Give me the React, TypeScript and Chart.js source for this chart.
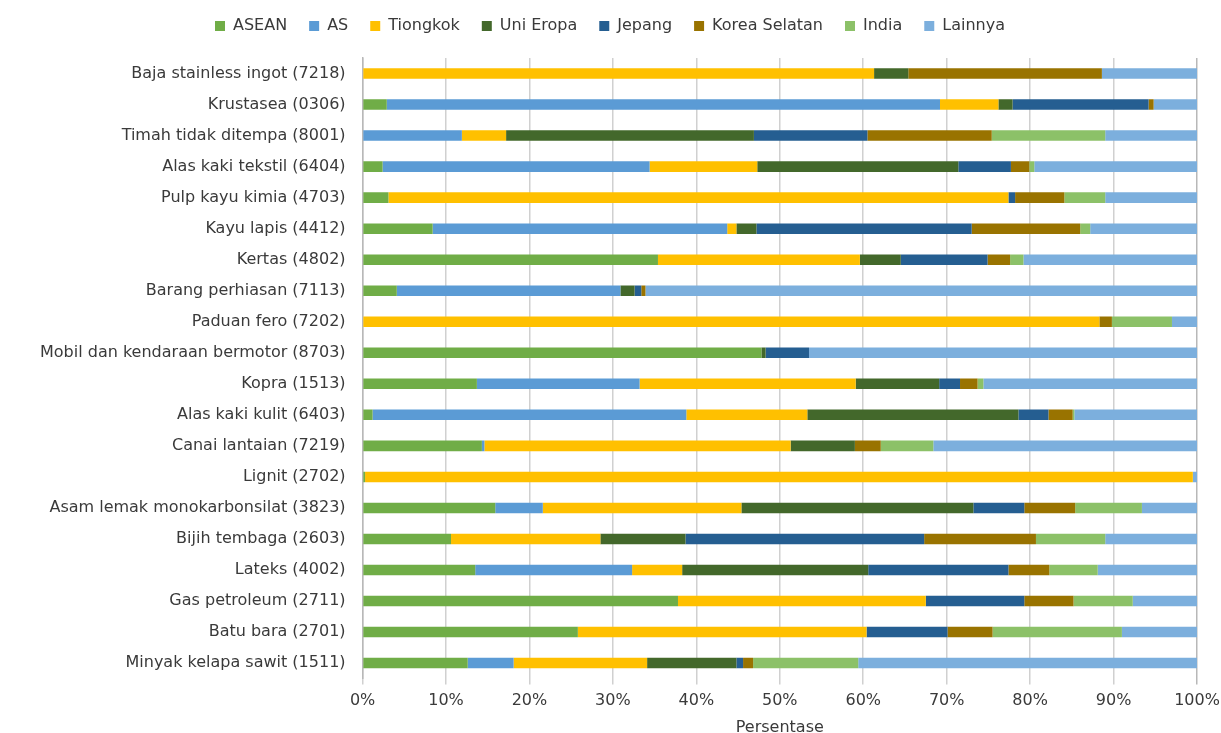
import React, { useEffect, useRef } from "react";
import { Chart, registerables } from "chart.js";

Chart.register(...registerables);

const categories = [
  "Baja stainless ingot (7218)",
  "Krustasea (0306)",
  "Timah tidak ditempa (8001)",
  "Alas kaki tekstil (6404)",
  "Pulp kayu kimia (4703)",
  "Kayu lapis (4412)",
  "Kertas (4802)",
  "Barang perhiasan (7113)",
  "Paduan fero (7202)",
  "Mobil dan kendaraan bermotor (8703)",
  "Kopra (1513)",
  "Alas kaki kulit (6403)",
  "Canai lantaian (7219)",
  "Lignit (2702)",
  "Asam lemak monokarbonsilat (3823)",
  "Bijih tembaga (2603)",
  "Lateks (4002)",
  "Gas petroleum (2711)",
  "Batu bara (2701)",
  "Minyak kelapa sawit (1511)",
];

const asean = [0, 2.9, 0, 2.4, 3.1, 8.4, 35.4, 4.1, 0, 47.8, 13.7, 1.2, 14.3, 0.3, 15.9, 10.6, 13.5, 37.8, 25.8, 12.6];
const as = [0, 66.3, 11.9, 32.0, 0, 35.3, 0, 26.8, 0, 0, 19.5, 37.6, 0.3, 0, 5.7, 0, 18.8, 0, 0, 5.5];
const tiongkok = [61.3, 7.0, 5.3, 12.9, 74.3, 1.1, 24.2, 0, 88.3, 0, 25.9, 14.5, 36.7, 99.2, 23.8, 17.9, 6.0, 29.7, 34.6, 16.0];
const uniEropa = [4.1, 1.7, 29.7, 24.1, 0, 2.4, 4.9, 1.7, 0, 0.5, 10.0, 25.3, 7.7, 0, 27.8, 10.2, 22.3, 0, 0, 10.7];
const jepang = [0, 16.3, 13.6, 6.3, 0.8, 25.8, 10.4, 0.8, 0, 5.2, 2.5, 3.6, 0, 0, 6.1, 28.6, 16.8, 11.8, 9.7, 0.8];
const koreaSelatan = [23.2, 0.6, 14.9, 2.2, 5.9, 13.0, 2.7, 0.5, 1.5, 0, 2.1, 2.9, 3.1, 0, 6.1, 13.4, 4.9, 5.9, 5.4, 1.2];
const india = [0, 0, 13.6, 0.6, 4.9, 1.2, 1.6, 0, 7.2, 0, 0.7, 0.2, 6.3, 0, 8.0, 8.3, 5.8, 7.1, 15.5, 12.6];
const lainnya = [11.4, 5.2, 11.0, 19.5, 11.0, 12.8, 20.8, 66.1, 3.0, 46.5, 25.6, 14.7, 31.6, 0.5, 6.6, 11.0, 11.9, 7.7, 9.0, 40.6];

const xTicks = ["0%", "10%", "20%", "30%", "40%", "50%", "60%", "70%", "80%", "90%", "100%"];

const FONT = "DejaVu Sans";
const TEXT = "#3A3A3A";

const legendMargin = {
  id: "legendMargin",
  beforeInit(chart: any) {
    const orig = chart.legend.fit;
    chart.legend.fit = function () {
      orig.bind(this)();
      this.height += 14;
    };
  },
};

export default function App() {
  const ref = useRef<HTMLCanvasElement | null>(null);

  useEffect(() => {
    document.body.style.margin = "0";
    if (!ref.current) return;
    const mk = (label: string, data: number[], color: string) => ({
      label,
      data,
      backgroundColor: color,
      borderWidth: 0,
      barPercentage: 0.34,
      categoryPercentage: 1,
    });
    const chart = new Chart(ref.current, {
      type: "bar",
      data: {
        labels: categories,
        datasets: [
          mk("ASEAN", asean, "#70AD47"),
          mk("AS", as, "#5B9BD5"),
          mk("Tiongkok", tiongkok, "#FFC000"),
          mk("Uni Eropa", uniEropa, "#43682B"),
          mk("Jepang", jepang, "#255E91"),
          mk("Korea Selatan", koreaSelatan, "#997300"),
          mk("India", india, "#8CC168"),
          mk("Lainnya", lainnya, "#7CAFDD"),
        ],
      },
      plugins: [legendMargin],
      options: {
        indexAxis: "y",
        animation: false,
        responsive: false,
        layout: { padding: { left: 23, right: 24, top: -4, bottom: 0 } },
        plugins: {
          legend: {
            position: "top",
            labels: {
              boxWidth: 10,
              boxHeight: 10,
              padding: 22,
              color: TEXT,
              font: { family: FONT, size: 16 },
            },
          },
          tooltip: { enabled: false },
        },
        scales: {
          x: {
            stacked: true,
            min: 0,
            max: 100,
            afterFit: (s: any) => {
              s.paddingRight = 0;
            },
            ticks: {
              stepSize: 10,
              color: TEXT,
              font: { family: FONT, size: 16 },
              padding: 7,
              callback: (_v: any, i: number) => xTicks[i],
            },
            grid: {
              color: (c: any) => (c.index === 10 ? "#B8B8B8" : "#D0D0D0"),
              lineWidth: 1.5,
              tickLength: 6,
            },
            border: { display: false },
            title: {
              display: true,
              text: "Persentase",
              color: TEXT,
              font: { family: FONT, size: 16 },
              padding: { top: 0, bottom: -4 },
            },
          },
          y: {
            stacked: true,
            ticks: {
              color: TEXT,
              font: { family: FONT, size: 16 },
              padding: 17,
              autoSkip: false,
            },
            grid: { display: false, drawTicks: false },
            border: { display: true, color: "#B8B8B8", width: 1.5 },
          },
        },
      },
    });
    return () => chart.destroy();
  }, []);

  return <canvas ref={ref} width={1221} height={733} style={{ display: "block" }} />;
}
